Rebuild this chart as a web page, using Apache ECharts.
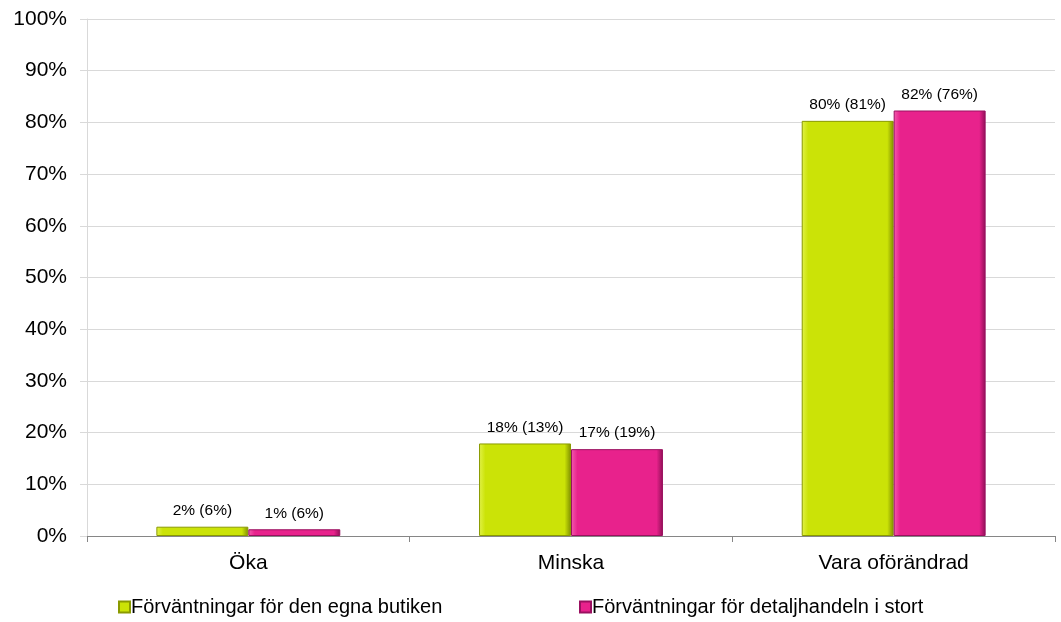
<!DOCTYPE html>
<html>
<head>
<meta charset="utf-8">
<script src="https://cdn.jsdelivr.net/npm/echarts@6/dist/echarts.min.js"></script>
<style>
  html, body { margin: 0; padding: 0; background: #fff; }
  #main { width: 1061px; height: 622px; }
</style>
</head>
<body>
<div id="main"></div>
<script>
var categories = ['Öka', 'Minska', 'Vara oförändrad'];
var seriesNames = ['Förväntningar för den egna butiken', 'Förväntningar för detaljhandeln i stort'];
var egnaButiken = [1.8, 17.9, 80.3];
var detaljhandeln = [1.3, 16.8, 82.3];
// siffror inom parentes = föregående mätning
var egnaLabels = ['2% (6%)', '18% (13%)', '80% (81%)'];
var detaljLabels = ['1% (6%)', '17% (19%)', '82% (76%)'];
var yTicks = [0, 10, 20, 30, 40, 50, 60, 70, 80, 90, 100];

var myChart = echarts.init(document.getElementById('main'));

function grad(light, mid, dark) {
    return new echarts.graphic.LinearGradient(0, 0, 1, 0, [
        { offset: 0, color: light },
        { offset: 0.07, color: mid },
        { offset: 0.93, color: mid },
        { offset: 1, color: dark }
    ]);
}

function makeSeries(name, values, labels, color, border) {
    return {
        name: name,
        type: 'bar',
        barGap: '0%',
        barCategoryGap: '43%',
        data: values,
        itemStyle: {
            color: color,
            borderColor: border,
            borderWidth: 1
        },
        label: {
            show: true,
            position: 'top',
            distance: 8,
            color: '#000',
            fontSize: 15.5,
            fontFamily: 'Liberation Sans',
            formatter: function (p) { return labels[p.dataIndex]; }
        }
    };
}

function makeLegend(name, left) {
    return {
        top: 592,
        left: left,
        itemWidth: 11,
        itemHeight: 11,
        icon: 'rect',
        textStyle: { color: '#000', fontSize: 20, fontFamily: 'Liberation Sans', padding: [0, 0, 0, -4] },
        data: [name]
    };
}

var greenFill = grad('#e2f24a', '#cbe307', '#7f8e00');
var pinkFill = grad('#f35cae', '#e8228c', '#8e0f55');

var option = {
    animation: false,
    textStyle: { fontFamily: 'Liberation Sans' },
    grid: { left: 87, right: 6, top: 19, bottom: 86 },
    legend: [
        makeLegend(seriesNames[0], 113),
        makeLegend(seriesNames[1], 574)
    ],
    xAxis: {
        type: 'category',
        data: categories,
        axisLine: { lineStyle: { color: '#868686' } },
        axisTick: { show: true, length: 6, lineStyle: { color: '#868686' } },
        axisLabel: { color: '#000', fontSize: 21, margin: 17 }
    },
    yAxis: {
        type: 'value',
        min: yTicks[0],
        max: yTicks[yTicks.length - 1],
        interval: 10,
        axisLine: { show: true, lineStyle: { color: '#d9d9d9' } },
        axisTick: { show: true, length: 7, lineStyle: { color: '#d9d9d9' } },
        splitLine: { lineStyle: { color: '#d9d9d9' } },
        axisLabel: { color: '#000', fontSize: 21, margin: 20, formatter: '{value}%' }
    },
    series: [
        makeSeries(seriesNames[0], egnaButiken, egnaLabels, greenFill, '#8a9a00'),
        makeSeries(seriesNames[1], detaljhandeln, detaljLabels, pinkFill, '#9a1060')
    ]
};
myChart.setOption(option);
</script>
</body>
</html>
